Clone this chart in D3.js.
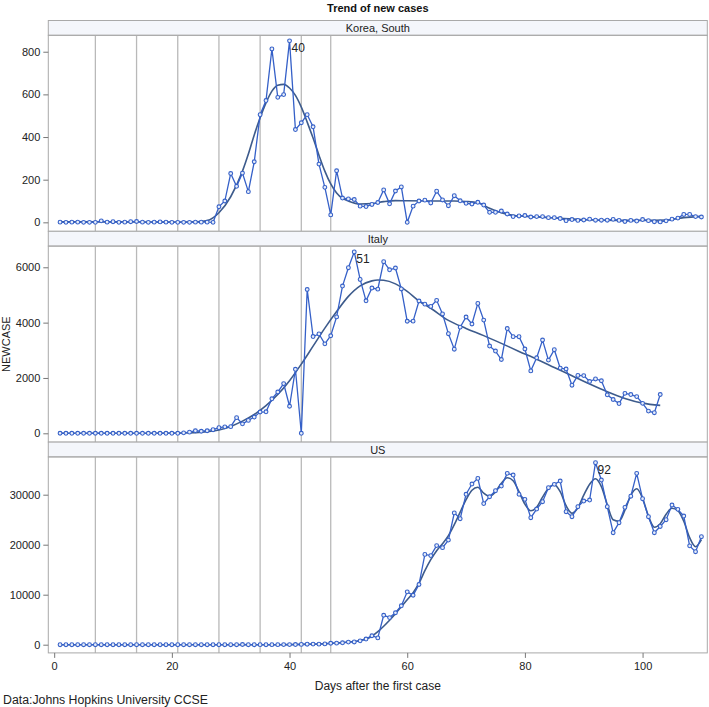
<!DOCTYPE html>
<html>
<head>
<meta charset="utf-8">
<script src="https://cdn.jsdelivr.net/npm/d3@7"></script>
<style>
  body { margin: 0; background: #fff; }
  text { font-family: "Liberation Sans", Arial, sans-serif; }
</style>
</head>
<body>
<div id="chart"></div>
<script>
// daily new cases, day 1 .. n
const koreaCases = [
    1, 0, 1, 1, 0, 0, 0, 7, 1, 3,
    0, 1, 3, 4, 1, 0, 1, 2, 1, 0,
    0, 0, 0, 1, 1, 1, 0,
    73, 100, 229, 169, 231, 144, 284, 505, 571, 813,
    586, 599, 851, 435, 467, 505, 448, 273, 164, 35,
    242, 114, 110, 107, 76, 74, 84, 93, 152, 87,
    147, 166, 0, 76, 100, 104, 91, 146, 105, 78,
    125, 101, 89, 86, 94, 81, 47, 47, 53, 39,
    27, 30, 32, 25, 27, 27, 22, 22, 18, 8,
    13, 9, 11, 15, 10, 10, 10, 14, 9, 4,
    9, 6, 13, 8, 3, 2, 7, 15, 20, 37,
    37, 27, 25
];
const italyCases = [
    2, 0, 0, 0, 0, 0, 1, 0, 0, 0,
    0, 0, 0, 0, 0, 0, 0, 0, 0, 0, 0,
    17, 42, 93, 74, 93, 131, 202, 233, 240,
    566, 342, 466, 587, 769, 778, 1247, 1492, 1797, 977,
    2313, 0, 5198, 3497, 3590, 3233, 3526, 4207, 5322, 5986,
    6557, 5560, 4789, 5249, 5210, 6203, 5909, 5974, 5217, 4050,
    4053, 4782, 4668, 4585, 4805, 4316, 3599, 3039, 3836, 4204,
    3951, 4694, 4092, 3153, 2972, 2667, 3786, 3493, 3491, 3047,
    2256, 2729, 3370, 2646, 3021, 2357, 2324, 1739, 2091, 2086,
    1872, 1965, 1900, 1389, 1221, 1075, 1444, 1401, 1327, 1083,
    802, 744, 1402
];
const usCases = [
    0, 0, 3, 0, 0, 0, 1, 1, 0, 3,
    0, 0, 0, 0, 0, 0, 0, 1, 0, 0,
    0, 0, 0, 0, 0, 0, 0, 2, 0, 0,
    0, 36, 0, 0, 6, 1, 8, 7, 25, 24,
    34, 63, 98, 116, 106, 163, 290, 307, 380, 516,
    547, 773, 1133, 1789, 1365, 5894, 5421, 6392, 7783, 10571,
    9893, 12038, 18058, 17821, 19821, 19408, 20921, 26365, 25200, 30081,
    32133, 33264, 28222, 29595, 30800, 31733, 34267, 33933, 30067, 29067,
    25400, 27133, 28600, 31400, 32067, 32733, 26600, 25600, 27600, 28733,
    28933, 36400, 32933, 27600, 22400, 24400, 27467, 29700, 34267, 29200,
    25600, 22400, 23650, 25000, 27933, 27067, 25733, 19770, 18600, 21600
];

// fitted curves, [day, value] read at knots
const koreaSmooth = [
    [1, 2], [10, 2], [20, 1], [24, 2], [26, 8], [28, 45], [30, 120], [32, 240], [33, 320],
    [34, 410], [35, 490], [36, 560], [37, 615], [38, 643], [39, 647], [40, 630], [41, 595],
    [42, 540], [43, 470], [44, 395], [45, 315], [46, 240], [47, 180], [48, 138], [49, 112],
    [50, 100], [52, 86], [54, 88], [56, 97], [58, 102], [60, 101], [64, 100], [68, 100],
    [70, 98], [72, 92], [74, 66], [76, 45], [78, 33], [82, 25], [86, 19], [90, 12], [96, 9],
    [100, 9], [104, 11], [107, 22], [110, 28]
];
const italySmooth = [
    [1, 0], [15, 0], [22, 10], [26, 60], [28, 120], [30, 250], [32, 440], [34, 680],
    [36, 1000], [38, 1400], [40, 1900], [42, 2500], [44, 3150], [46, 3800], [48, 4400],
    [50, 4950], [52, 5330], [54, 5510], [55, 5540], [56, 5530], [58, 5400], [60, 5130],
    [62, 4780], [64, 4520], [67, 4080], [70, 3790], [73, 3530], [76, 3250], [79, 2960],
    [82, 2680], [85, 2380], [88, 2080], [91, 1780], [94, 1500], [97, 1260], [100, 1090],
    [103, 1010]
];
const usSmooth = [
    [1, 0], [38, 5], [42, 60], [45, 150], [48, 340], [50, 540], [52, 850], [54, 1700],
    [55, 2600], [56, 3700], [57, 4900], [58, 6200], [59, 7600], [60, 9000], [61, 10400],
    [62, 12300], [63, 14800], [64, 17000], [65, 18800], [66, 20200], [67, 21800],
    [68, 24000], [69, 26500], [70, 29000], [71, 30900], [72, 31500], [73, 30300],
    [74, 29700], [75, 30600], [76, 32300], [77, 33400], [78, 32800], [79, 30600],
    [80, 28100], [81, 26800], [82, 27500], [83, 29500], [84, 31300], [85, 32000],
    [86, 30600], [87, 27800], [88, 26300], [89, 27400], [90, 29900], [91, 32100],
    [92, 33200], [93, 31600], [94, 28000], [95, 25000], [96, 24700], [97, 26900],
    [98, 29900], [99, 31200], [100, 29300], [101, 25700], [102, 23500], [103, 24200],
    [104, 26100], [105, 27300], [106, 26800], [107, 24700], [108, 21400], [109, 19600],
    [110, 21000]
];

const countries = ['Korea, South', 'Italy', 'US'];
const refDays = [7, 14, 21, 28, 35, 42, 47];
const xTicks = [0, 20, 40, 60, 80, 100];
const koreaTicks = [0, 200, 400, 600, 800];
const italyTicks = [0, 2000, 4000, 6000];
const usTicks = [0, 10000, 20000, 30000];

const panels = [
    { name: countries[0], cases: koreaCases, smooth: koreaSmooth, ticks: koreaTicks, yDomain: [-42, 877] },
    { name: countries[1], cases: italyCases, smooth: italySmooth, ticks: italyTicks, yDomain: [-318, 6766] },
    { name: countries[2], cases: usCases, smooth: usSmooth, ticks: usTicks, yDomain: [-1640, 37560] },
];

const width = 709;
const height = 707;
const plotLeft = 48.3;
const plotRight = 707.3;
const firstTop = 20.5;
const stripH = 14.8;
const plotH = 196;

const lineColor = '#3560c8';
const fitColor = '#3d5b8c';
const frameColor = '#a9a9a9';

const svg = d3.select('#chart')
    .append('svg')
    .attr('width', width)
    .attr('height', height);

const x = d3.scaleLinear().domain([-1, 111]).range([plotLeft, plotRight]);

svg.append('text')
    .attr('x', (plotLeft + plotRight) / 2)
    .attr('y', 12)
    .attr('text-anchor', 'middle')
    .style('font-size', '11px')
    .style('font-weight', 'bold')
    .attr('fill', '#111')
    .text('Trend of new cases');

let lastBottom = 0;

panels.forEach((p, i) => {
    const top = firstTop + i * (stripH + plotH);
    const plotTop = top + stripH;
    const plotBottom = plotTop + plotH;
    lastBottom = plotBottom;

    const y = d3.scaleLinear().domain(p.yDomain).range([plotBottom, plotTop]);

    // header strip
    svg.append('rect')
        .attr('x', plotLeft)
        .attr('y', top)
        .attr('width', plotRight - plotLeft)
        .attr('height', stripH)
        .attr('fill', '#f4f6fb')
        .attr('stroke', frameColor);

    svg.append('text')
        .attr('x', (plotLeft + plotRight) / 2)
        .attr('y', top + stripH / 2 + 4)
        .attr('text-anchor', 'middle')
        .style('font-size', '11px')
        .attr('fill', '#222')
        .text(p.name);

    // weekly reference lines
    svg.append('g')
        .selectAll('line')
        .data(refDays)
        .enter()
        .append('line')
        .attr('x1', (d) => x(d))
        .attr('x2', (d) => x(d))
        .attr('y1', plotTop)
        .attr('y2', plotBottom)
        .attr('stroke', '#b9b9b9')
        .attr('stroke-width', 1.3);

    svg.append('rect')
        .attr('x', plotLeft)
        .attr('y', plotTop)
        .attr('width', plotRight - plotLeft)
        .attr('height', plotH)
        .attr('fill', 'none')
        .attr('stroke', frameColor);

    // Y axis
    const yAxis = svg.append('g')
        .attr('transform', `translate(${plotLeft},0)`)
        .call(d3.axisLeft(y).tickValues(p.ticks).tickSize(5).tickPadding(3).tickFormat(d3.format('d')));
    yAxis.select('.domain').remove();
    yAxis.selectAll('line').attr('stroke', '#777');
    yAxis.selectAll('text')
        .style('font-size', '11px')
        .style('font-family', '"Liberation Sans", Arial, sans-serif')
        .attr('fill', '#222');

    const pts = p.cases.map((v, k) => ({ day: k + 1, value: v }));

    const dataLine = d3.line()
        .x((d) => x(d.day))
        .y((d) => y(d.value));

    const fitLine = d3.line()
        .x((d) => x(d[0]))
        .y((d) => y(d[1]))
        .curve(d3.curveMonotoneX);

    svg.append('path')
        .datum(p.smooth)
        .attr('d', fitLine)
        .attr('fill', 'none')
        .attr('stroke', fitColor)
        .attr('stroke-width', 1.6);

    svg.append('path')
        .datum(pts)
        .attr('d', dataLine)
        .attr('fill', 'none')
        .attr('stroke', lineColor)
        .attr('stroke-width', 1.3);

    svg.append('g')
        .selectAll('circle')
        .data(pts)
        .enter()
        .append('circle')
        .attr('cx', (d) => x(d.day))
        .attr('cy', (d) => y(d.value))
        .attr('r', 1.9)
        .attr('fill', '#e8eefa')
        .attr('stroke', lineColor)
        .attr('stroke-width', 1.1);

    // label the peak day
    const peak = pts[d3.maxIndex(pts, (d) => d.value)];
    svg.append('text')
        .attr('x', x(peak.day) + 2)
        .attr('y', y(peak.value) + 11.5)
        .style('font-size', '12px')
        .attr('fill', '#222')
        .text(peak.day);
});

// X axis on the bottom panel
const xAxis = svg.append('g')
    .attr('transform', `translate(0,${lastBottom})`)
    .call(d3.axisBottom(x).tickValues(xTicks).tickSize(5).tickPadding(4));
xAxis.select('.domain').remove();
xAxis.selectAll('line').attr('stroke', '#777');
xAxis.selectAll('text')
    .style('font-size', '11px')
    .style('font-family', '"Liberation Sans", Arial, sans-serif')
    .attr('fill', '#222');

svg.append('text')
    .attr('x', (plotLeft + plotRight) / 2)
    .attr('y', 690)
    .attr('text-anchor', 'middle')
    .style('font-size', '12px')
    .attr('fill', '#222')
    .text('Days after the first case');

svg.append('text')
    .attr('text-anchor', 'middle')
    .attr('transform', `translate(10, ${(firstTop + stripH + lastBottom) / 2}) rotate(-90)`)
    .style('font-size', '11px')
    .attr('fill', '#222')
    .text('NEWCASE');

svg.append('text')
    .attr('x', 3)
    .attr('y', 704)
    .style('font-size', '12.3px')
    .attr('fill', '#222')
    .text('Data:Johns Hopkins University CCSE');
</script>
</body>
</html>
